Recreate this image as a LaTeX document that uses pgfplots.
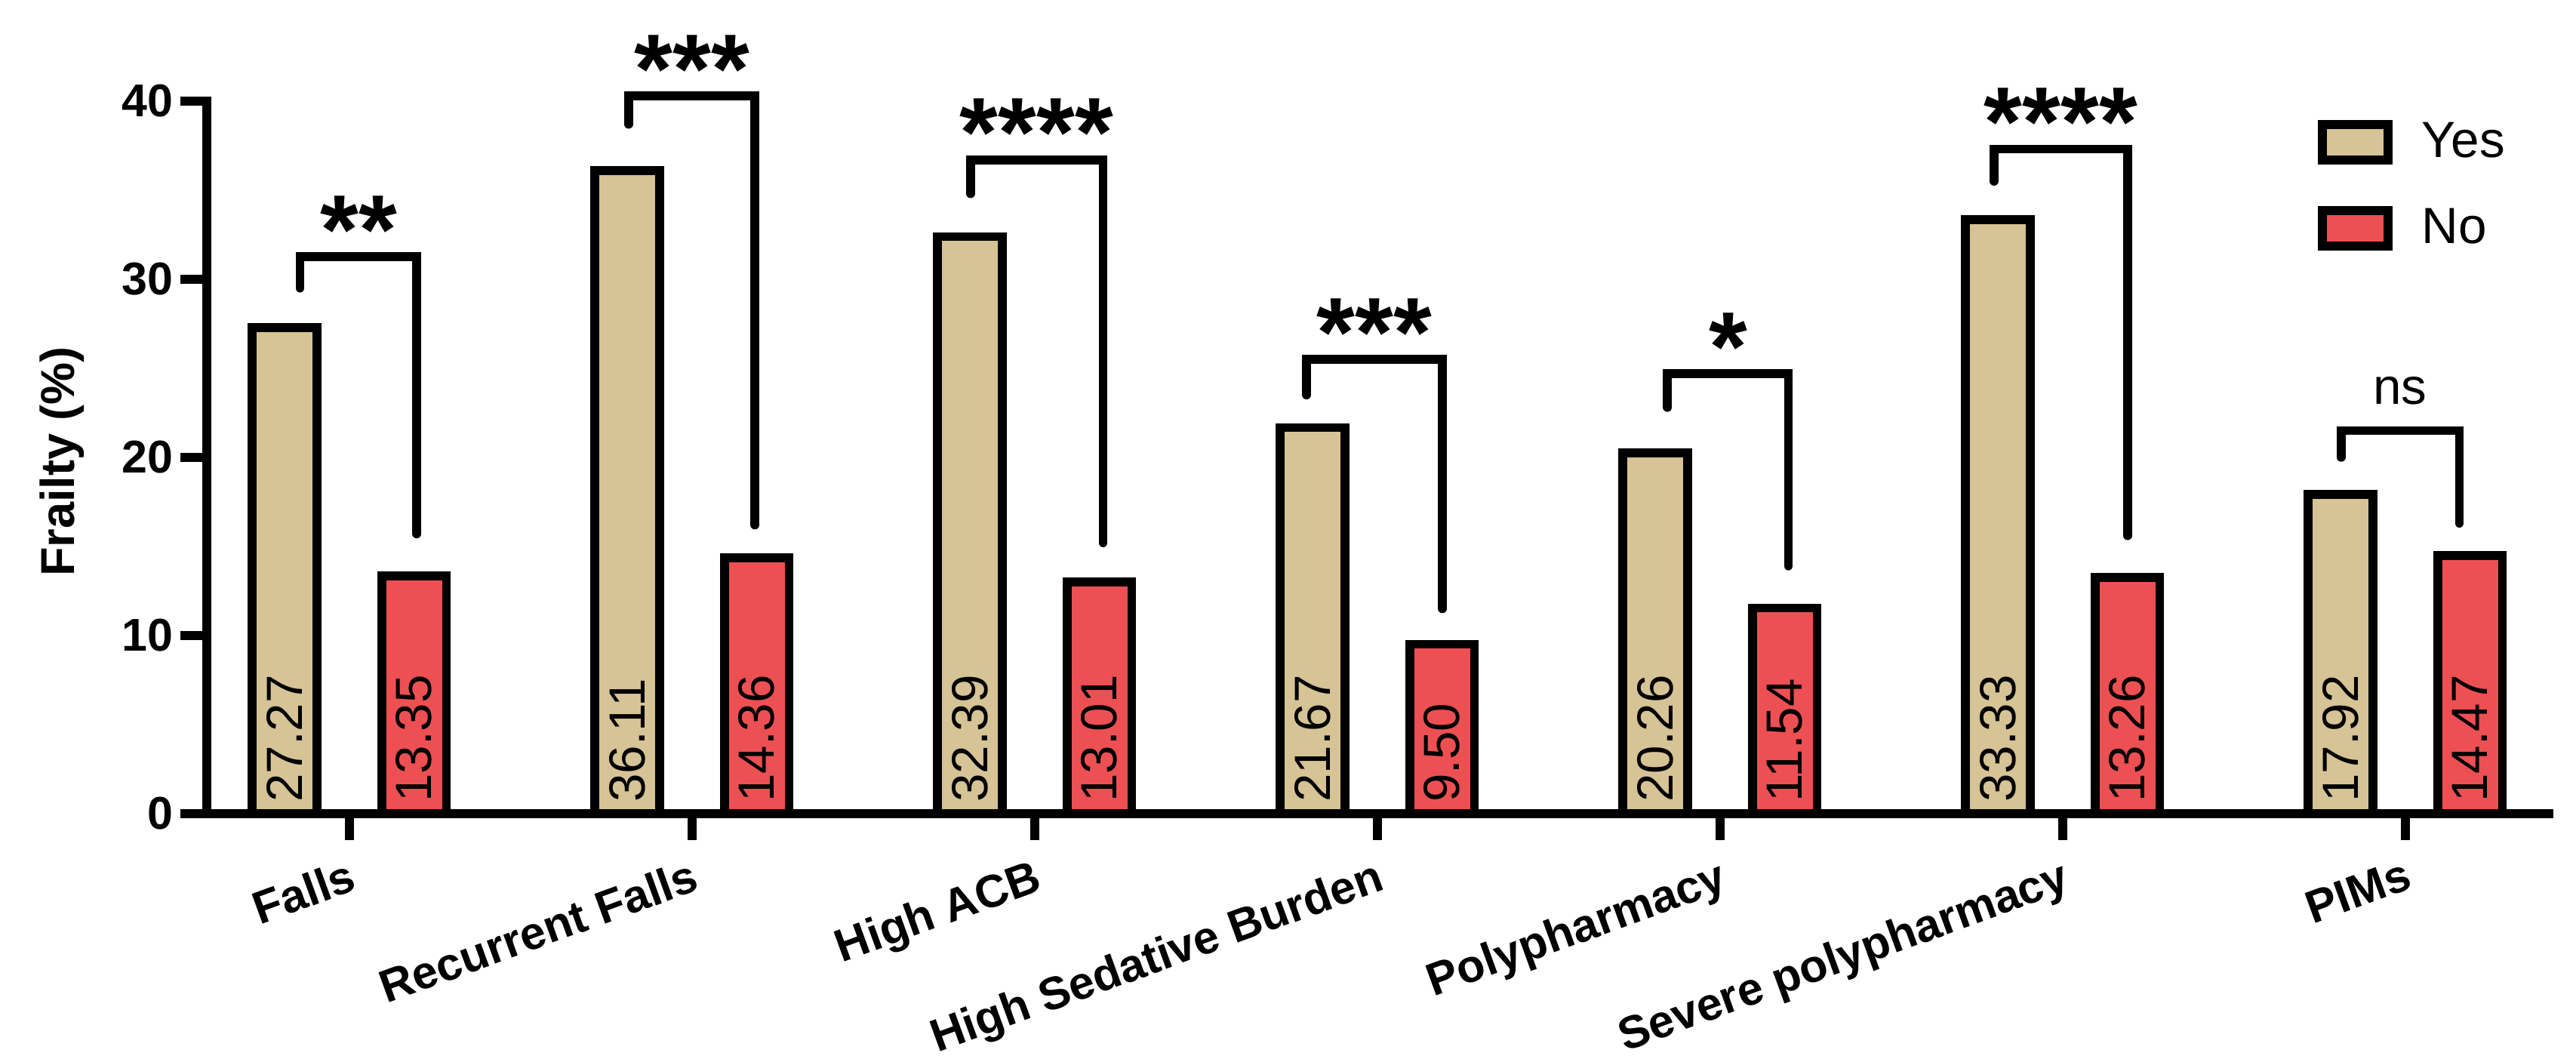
\documentclass[border=0pt]{standalone}
\usepackage{pgfplots}
\usepackage{pgfplotstable}
\pgfplotsset{compat=1.18}
\usepackage{fontspec}
\setmainfont{Liberation Sans}
\definecolor{tanbar}{RGB}{214,195,150}
\definecolor{redbar}{RGB}{237,80,83}

\pgfplotstableread{
x yes no yl nl
0 27.27 13.35 27.27 13.35
1 36.11 14.36 36.11 14.36
2 32.39 13.01 32.39 13.01
3 21.67 9.50 21.67 9.50
4 20.26 11.54 20.26 11.54
5 33.33 13.26 33.33 13.26
6 17.92 14.47 17.92 14.47
}\data

\newcommand{\lblfont}{\bfseries\fontsize{14}{16}\selectfont}
\newcommand{\valfont}{\fontsize{15.5}{18}\selectfont}
\newcommand{\starfont}{\bfseries\fontsize{30}{32}\selectfont}

\begin{document}
\begin{tikzpicture}
\begin{axis}[
  scale only axis,
  width=713.7pt, height=217.1pt,
  xmin=-0.416, xmax=6.419,
  ymin=0, ymax=40,
  clip=false,
  axis x line*=bottom, axis y line*=left,
  axis line style={line width=2.7pt, line cap=rect},
  every tick/.style={black, line width=2.7pt},
  tick align=outside,
  major tick length=8pt,
  xtick={0,1,2,3,4,5,6},
  xticklabels={Falls,Recurrent Falls,High ACB,High Sedative Burden,Polypharmacy,Severe polypharmacy,PIMs},
  xticklabel style={yshift=-4pt, rotate=20, anchor=north east, font=\lblfont, inner sep=1pt},
  ytick={0,10,20,30,40},
  /pgf/number format/assume math mode=true,
  yticklabel style={font=\lblfont, inner sep=2pt},
  ylabel={Frailty (\%)},
  ylabel style={font=\bfseries\fontsize{14.5}{16}\selectfont, at={(axis description cs:-0.0521,0.494)}, anchor=south, inner sep=0pt},
  legend style={at={(rel axis cs:0.901,0.98)}, anchor=north west, draw=none, fill=none,
    font=\valfont, row sep=10pt, inner sep=0pt,
    nodes={inner sep=2pt}},
  legend cell align=left,
  legend image code/.code={\draw[#1, line width=2.8pt] (0pt,-5.4pt) rectangle (20pt,5.4pt);},
]
\addplot[ybar, bar width=0.189, bar shift=-0.189, fill=tanbar, draw=black, line width=2.7pt] table[x=x, y=yes] {\data};
\addlegendentry{\hspace{7pt}Yes}
\addplot[ybar, bar width=0.189, bar shift=0.189, fill=redbar, draw=black, line width=2.7pt] table[x=x, y=no] {\data};
\addlegendentry{\hspace{7pt}No}

% value labels inside bars
\addplot[draw=none, mark=none, forget plot, nodes near coords, point meta=explicit symbolic,
  nodes near coords style={rotate=90, anchor=west, inner sep=0pt, font=\valfont, text=black}]
  table[x expr=\thisrow{x}-0.189, y expr=0.6, meta=yl] {\data};
\addplot[draw=none, mark=none, forget plot, nodes near coords, point meta=explicit symbolic,
  nodes near coords style={rotate=90, anchor=west, inner sep=0pt, font=\valfont, text=black}]
  table[x expr=\thisrow{x}+0.189, y expr=0.6, meta=nl] {\data};

% significance brackets
\pgfplotsset{sig/.style={forget plot, black, line width=2.7pt, line cap=round, line join=miter, mark=none, sharp plot}}
\addplot[sig] coordinates {(-0.144,29.5) (-0.144,31.27) (0.197,31.27) (0.197,15.7)};
\addplot[sig] coordinates {(0.815,38.7) (0.815,40.3) (1.184,40.3) (1.184,16.2)};
\addplot[sig] coordinates {(1.813,34.8) (1.813,36.7) (2.2,36.7) (2.2,15.2)};
\addplot[sig] coordinates {(2.794,23.5) (2.794,25.5) (3.19,25.5) (3.19,11.5)};
\addplot[sig] coordinates {(3.847,22.8) (3.847,24.7) (4.2,24.7) (4.2,13.9)};
\addplot[sig] coordinates {(4.8,35.5) (4.8,37.3) (5.19,37.3) (5.19,15.6)};
\addplot[sig] coordinates {(5.813,20.0) (5.813,21.5) (6.158,21.5) (6.158,16.3)};

\node[anchor=north, inner sep=0pt, font=\starfont] at (axis cs:0.027,34.72) {**};
\node[anchor=north, inner sep=0pt, font=\starfont] at (axis cs:1.0,43.75) {***};
\node[anchor=north, inner sep=0pt, font=\starfont] at (axis cs:2.006,40.15) {****};
\node[anchor=north, inner sep=0pt, font=\starfont] at (axis cs:2.992,28.95) {***};
\node[anchor=north, inner sep=0pt, font=\starfont] at (axis cs:4.024,28.15) {*};
\node[anchor=north, inner sep=0pt, font=\starfont] at (axis cs:4.995,40.75) {****};
\node[anchor=base, inner sep=0pt, font=\valfont] at (axis cs:5.985,23.0) {ns};

\coordinate (bl) at (rel axis cs:0,0);
\coordinate (tr) at (rel axis cs:1,1);
\end{axis}
\pgfresetboundingbox
\path[use as bounding box] ([shift={(-63pt,-74.75pt)}]bl) rectangle ([shift={(8.3pt,30.8pt)}]tr);
\end{tikzpicture}
\end{document}
